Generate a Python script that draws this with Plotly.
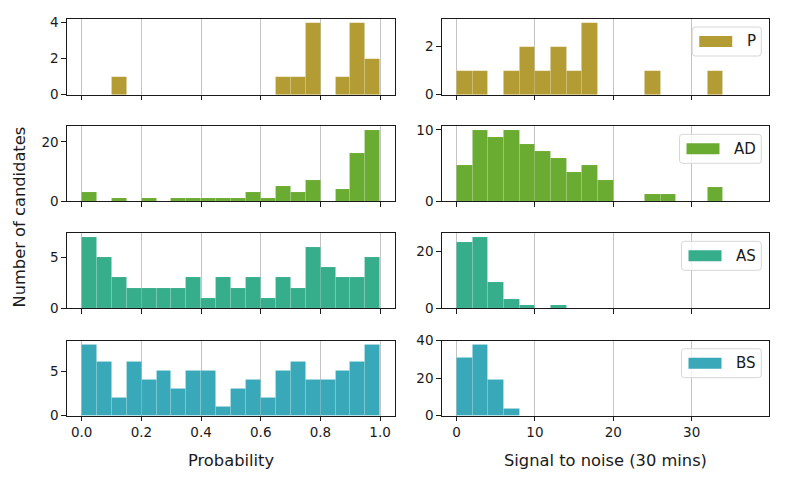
import numpy as np
import plotly.graph_objects as go

# ---------------- data ----------------
labels = ["P", "AD", "AS", "BS"]
colors = ["#b39c33", "#6aac31", "#36ae8b", "#39a9b9"]

prob_edges = np.round(np.arange(0, 1.0001, 0.05), 2)   # 20 bins of width 0.05
prob_P  = [0, 0, 1, 0, 0, 0, 0, 0, 0, 0, 0, 0, 0, 1, 1, 4, 0, 1, 4, 2]
prob_AD = [3, 0, 1, 0, 1, 0, 1, 1, 1, 1, 1, 3, 1, 5, 3, 7, 0, 4, 16, 24]
prob_AS = [7, 5, 3, 2, 2, 2, 2, 3, 1, 3, 2, 3, 1, 3, 2, 6, 4, 3, 3, 5]
prob_BS = [8, 6, 2, 6, 4, 5, 3, 5, 5, 1, 3, 4, 2, 5, 6, 4, 4, 5, 6, 8]

snr_edges = np.arange(0, 38.1, 2)                        # 19 bins of width 2
snr_P  = [1, 1, 0, 1, 2, 1, 2, 1, 3, 0, 0, 0, 1, 0, 0, 0, 1, 0, 0]
snr_AD = [5, 10, 9, 10, 8, 7, 6, 4, 5, 3, 0, 0, 1, 1, 0, 0, 2, 0, 0]
snr_AS = [23, 25, 9, 3, 1, 0, 1, 0, 0, 0, 0, 0, 0, 0, 0, 0, 0, 0, 0]
snr_BS = [31, 38, 19, 4, 0, 0, 0, 0, 0, 0, 0, 0, 0, 0, 0, 0, 0, 0, 0]

prob_counts = [prob_P, prob_AD, prob_AS, prob_BS]
snr_counts = [snr_P, snr_AD, snr_AS, snr_BS]

prob_dtick = [2, 20, 5, 5]
snr_dtick = [2, 10, 20, 20]
prob_ytop = [4.2, 25.2, 7.35, 8.4]
snr_ytop = [3.15, 10.5, 26.25, 40.0]

prob_ticks = [0.0, 0.2, 0.4, 0.6, 0.8, 1.0]
snr_ticks = [0, 10, 20, 30]

xlabel_left = "Probability"
xlabel_right = "Signal to noise (30 mins)"
ylabel = "Number of candidates"

# ---------------- layout helpers ----------------
W, H = 789, 487
FONT = "DejaVu Sans"
INK = "#1a1a1a"


def px(xp):
    return xp / W


def py(yp):
    return 1 - yp / H


col_px = [(66.8, 395.0), (441.7, 769.3)]
row_px = [(19.0, 94.7), (126.3, 201.3), (233.3, 308.3), (340.7, 415.7)]

fig = go.Figure()
layout = dict(
    width=W, height=H,
    margin=dict(l=0, r=0, t=0, b=0, autoexpand=False),
    paper_bgcolor="white", plot_bgcolor="white",
    showlegend=False,
    font=dict(family=FONT, size=13.5, color=INK),
    bargap=0,
)

shapes = []
annotations = []

for r in range(4):
    for c in range(2):
        n = r * 2 + c + 1
        xa = "x" if n == 1 else f"x{n}"
        ya = "y" if n == 1 else f"y{n}"
        if c == 0:
            edges, counts, dt, ytop = prob_edges, prob_counts[r], prob_dtick[r], prob_ytop[r]
            width = 0.05
            xr = [-0.05, 1.05]
            tv, tt = prob_ticks, [f"{v:.1f}" for v in prob_ticks]
        else:
            edges, counts, dt, ytop = snr_edges, snr_counts[r], snr_dtick[r], snr_ytop[r]
            width = 2
            xr = [-1.9, 39.9]
            tv, tt = snr_ticks, [str(v) for v in snr_ticks]

        fig.add_trace(go.Bar(
            x=list(edges[:-1]), y=counts, width=width, offset=0,
            marker=dict(color=colors[r],
                        line=dict(color="rgba(255,255,255,0.18)", width=0.5)),
            name=labels[r], xaxis=xa, yaxis=ya, hoverinfo="x+y",
        ))

        x0, x1 = col_px[c]
        y0, y1 = row_px[r]
        axis_common = dict(
            showline=True, mirror=True, linecolor=INK, linewidth=1,
            ticks="outside", ticklen=4.5, tickwidth=1, tickcolor=INK,
            zeroline=False, layer="above traces", automargin=False,
            tickfont=dict(family=FONT, size=13.5, color=INK),
        )
        layout["xaxis" if n == 1 else f"xaxis{n}"] = dict(
            axis_common,
            domain=[px(x0), px(x1)], anchor=ya, range=xr,
            tickvals=tv, ticktext=tt, showticklabels=(r == 3),
            showgrid=True, gridcolor="#c4c4c4", gridwidth=1,
        )
        layout["yaxis" if n == 1 else f"yaxis{n}"] = dict(
            axis_common,
            domain=[py(y1), py(y0)], anchor=xa, range=[0, ytop * 1.0001],
            tick0=0, dtick=dt, showgrid=False,
        )

        # legend (right column)
        if c == 1:
            char_w = {"P": 0.603, "A": 0.684, "D": 0.770, "S": 0.635, "B": 0.686}
            fs = 15
            tw = sum(char_w[ch] for ch in labels[r]) * fs
            bx1 = x1 - 8
            bx0 = bx1 - (7 + 33 + 12.5 + tw + 7.5)
            by0 = y0 + 8
            by1 = by0 + 29
            rad = 3
            pts = [
                f"M {px(bx0 + rad)},{py(by0)}",
                f"L {px(bx1 - rad)},{py(by0)}",
                f"Q {px(bx1)},{py(by0)} {px(bx1)},{py(by0 + rad)}",
                f"L {px(bx1)},{py(by1 - rad)}",
                f"Q {px(bx1)},{py(by1)} {px(bx1 - rad)},{py(by1)}",
                f"L {px(bx0 + rad)},{py(by1)}",
                f"Q {px(bx0)},{py(by1)} {px(bx0)},{py(by1 - rad)}",
                f"L {px(bx0)},{py(by0 + rad)}",
                f"Q {px(bx0)},{py(by0)} {px(bx0 + rad)},{py(by0)} Z",
            ]
            shapes.append(dict(
                type="path", path=" ".join(pts), xref="paper", yref="paper",
                fillcolor="rgba(255,255,255,0.8)",
                line=dict(color="#d6d6d6", width=1), layer="above",
            ))
            cy = (by0 + by1) / 2
            shapes.append(dict(
                type="rect", xref="paper", yref="paper",
                x0=px(bx0 + 7), x1=px(bx0 + 40),
                y0=py(cy - 5.5), y1=py(cy + 5.5),
                fillcolor=colors[r], line=dict(width=0), layer="above",
            ))
            annotations.append(dict(
                text=labels[r], xref="paper", yref="paper",
                x=px(bx0 + 52.5), y=py(cy), xanchor="left", yanchor="middle",
                showarrow=False, font=dict(family=FONT, size=fs, color=INK),
            ))

annotations += [
    dict(text=xlabel_left, xref="paper", yref="paper",
         x=px((col_px[0][0] + col_px[0][1]) / 2), y=py(460),
         xanchor="center", yanchor="middle", showarrow=False,
         font=dict(family=FONT, size=16.3, color=INK)),
    dict(text=xlabel_right, xref="paper", yref="paper",
         x=px((col_px[1][0] + col_px[1][1]) / 2), y=py(460),
         xanchor="center", yanchor="middle", showarrow=False,
         font=dict(family=FONT, size=16.3, color=INK)),
    dict(text=ylabel, xref="paper", yref="paper",
         x=px(19), y=py(217.5), textangle=-90,
         xanchor="center", yanchor="middle", showarrow=False,
         font=dict(family=FONT, size=16.3, color=INK)),
]

layout["shapes"] = shapes
layout["annotations"] = annotations
fig.update_layout(**layout)

fig.write_html(
    "out.html",
    config={"displayModeBar": False},
    post_script="document.body.style.margin='0';document.body.style.padding='0';"
                "document.body.style.overflow='hidden';",
)
